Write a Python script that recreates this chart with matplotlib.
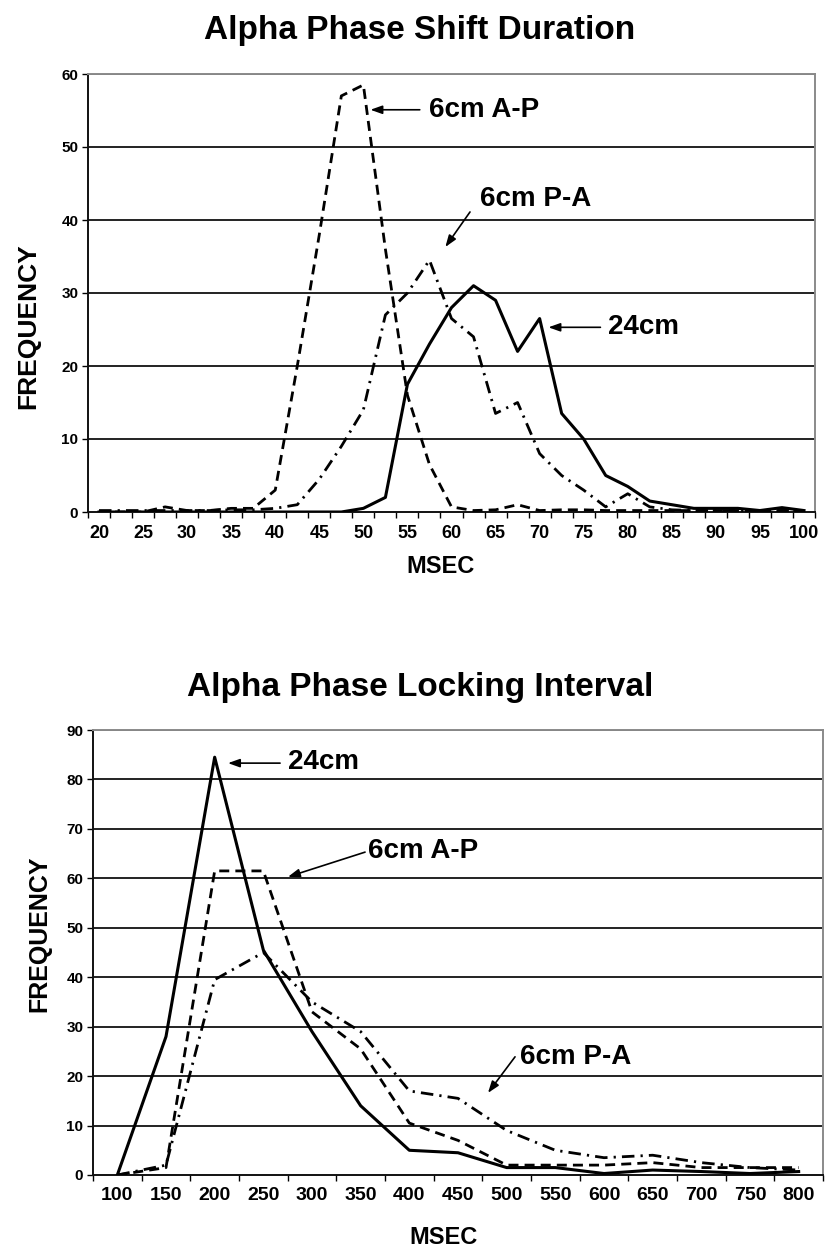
import matplotlib
matplotlib.use("Agg")
import matplotlib.pyplot as plt
from matplotlib.ticker import FixedLocator, NullFormatter

# ---------------- data ----------------
shift_msec = [20, 22.5, 25, 27.5, 30, 32.5, 35, 37.5, 40, 42.5, 45, 47.5, 50, 52.5, 55, 57.5,
              60, 62.5, 65, 67.5, 70, 72.5, 75, 77.5, 80, 82.5, 85, 87.5, 90, 92.5, 95, 97.5, 100]
shift_6cm_ap = [0, 0, 0, 0.7, 0.2, 0.2, 0.5, 0.5, 3, 20, 38, 57, 58.5, 36, 16, 6.5,
                0.7, 0.2, 0.3, 1, 0.2, 0.3, 0.3, 0.2, 0.2, 0.2, 0.2, 0.2, 0.2, 0.2, 0.2, 0.2, 0.2]
shift_6cm_pa = [0.2, 0.2, 0.2, 0.2, 0.2, 0.2, 0.3, 0.3, 0.5, 1, 4.5, 9, 14, 27, 30, 34.5,
                26.5, 24, 13.5, 15, 8, 5, 3, 0.7, 2.5, 0.7, 0.3, 0.2, 0.2, 0.2, 0.2, 0.2, 0.2]
shift_24cm = [0, 0, 0, 0, 0, 0, 0, 0, 0, 0, 0, 0, 0.5, 2, 17.5, 23,
              28, 31, 29, 22, 26.5, 13.5, 10, 5, 3.5, 1.5, 1, 0.5, 0.5, 0.5, 0.2, 0.6, 0.2]
shift_xlabels = [20, 25, 30, 35, 40, 45, 50, 55, 60, 65, 70, 75, 80, 85, 90, 95, 100]
shift_yticks = [0, 10, 20, 30, 40, 50, 60]

lock_msec = [100, 150, 200, 250, 300, 350, 400, 450, 500, 550, 600, 650, 700, 750, 800]
lock_24cm = [0, 28, 84.5, 45.5, 29, 14, 5, 4.5, 1.5, 1.5, 0.3, 1, 0.7, 0.3, 0.7]
lock_6cm_ap = [0, 1.5, 61.5, 61.5, 33, 25.5, 10.5, 7, 2, 2, 2, 2.5, 1.5, 1.5, 1.5]
lock_6cm_pa = [0, 2, 39.5, 45, 35, 29, 17, 15.5, 9, 5, 3.5, 4, 2.5, 1.5, 1]
lock_yticks = [0, 10, 20, 30, 40, 50, 60, 70, 80, 90]

# ---------------- figure ----------------
W, H = 835, 1249
fig = plt.figure(figsize=(W / 100, H / 100), dpi=100)
FONT = ["Liberation Sans", "DejaVu Sans"]
plt.rcParams["font.family"] = FONT
plt.rcParams["font.weight"] = "bold"


def box(l, t, r, b):
    return [l / W, 1 - b / H, (r - l) / W, (b - t) / H]


DASH = (0, (3.6, 2.2))
DASHDOT = (0, (4.5, 2.2, 0.8, 2.2))


def style_axes(ax, ymax, yticks, xlim, minor, majors, xfs):
    ax.set_ylim(0, ymax)
    ax.set_xlim(*xlim)
    ax.set_yticks(yticks)
    ax.set_yticklabels([str(v) for v in yticks], fontsize=11, fontweight="bold")
    ax.set_xticks(majors)
    ax.set_xticklabels([str(v) for v in majors], fontsize=xfs, fontweight="bold")
    ax.xaxis.set_minor_locator(FixedLocator(minor))
    ax.xaxis.set_minor_formatter(NullFormatter())
    ax.tick_params(axis="x", which="major", length=0, pad=9)
    ax.tick_params(axis="x", which="minor", length=4, width=1, direction="out")
    ax.tick_params(axis="y", length=4, width=1, direction="out", pad=3)
    for v in yticks[1:]:
        ax.axhline(v, color="#111111", lw=1.3, zorder=1)
    for s in ["left", "bottom"]:
        ax.spines[s].set_color("#111111")
        ax.spines[s].set_linewidth(1.4)
    for s in ["top", "right"]:
        ax.spines[s].set_color("#8a8a8a")
        ax.spines[s].set_linewidth(1.4)


arrow_kw = dict(arrowstyle="-|>,head_length=0.7,head_width=0.25", color="black",
                lw=1.2, shrinkA=0, shrinkB=0)
ann_fs = 20

# ---------- top chart ----------
ax1 = fig.add_axes(box(88, 74, 815, 512))
ax1.plot(shift_msec, shift_6cm_ap, color="black", lw=2.0, linestyle=DASH, zorder=3)
ax1.plot(shift_msec, shift_6cm_pa, color="black", lw=2.0, linestyle=DASHDOT, zorder=3)
ax1.plot(shift_msec, shift_24cm, color="black", lw=2.2, zorder=4)
minor1 = [18.75 + 2.5 * k for k in range(34)]
style_axes(ax1, 60, shift_yticks, (18.75, 101.25), minor1, shift_xlabels, 13)

ax1.annotate("", xy=(50.8, 55.1), xytext=(56.4, 55.1), arrowprops=arrow_kw)
ax1.text(57.4, 55.1, "6cm A-P", fontsize=ann_fs, fontweight="bold", va="center", ha="left")
ax1.annotate("", xy=(59.3, 36.3), xytext=(62.1, 41.1), arrowprops=arrow_kw)
ax1.text(63.2, 42.9, "6cm P-A", fontsize=ann_fs, fontweight="bold", va="center", ha="left")
ax1.annotate("", xy=(71.0, 25.3), xytext=(76.9, 25.3), arrowprops=arrow_kw)
ax1.text(77.8, 25.3, "24cm", fontsize=ann_fs, fontweight="bold", va="center", ha="left")

fig.text(420 / W, 1 - 31 / H, "Alpha Phase Shift Duration", fontsize=24, fontweight="bold",
         ha="center", va="center")
fig.text(28 / W, 1 - 326 / H, "FREQUENCY", fontsize=19, fontweight="bold",
         ha="center", va="center", rotation=90)
fig.text(441 / W, 1 - 567 / H, "MSEC", fontsize=17, fontweight="bold",
         ha="center", va="center")

# ---------- bottom chart ----------
ax2 = fig.add_axes(box(93, 730, 823, 1175))
ax2.plot(lock_msec, lock_6cm_ap, color="black", lw=2.0, linestyle=DASH, zorder=3)
ax2.plot(lock_msec, lock_6cm_pa, color="black", lw=2.0, linestyle=DASHDOT, zorder=3)
ax2.plot(lock_msec, lock_24cm, color="black", lw=2.2, zorder=4)
minor2 = [75 + 50 * k for k in range(16)]
style_axes(ax2, 90, lock_yticks, (75, 825), minor2, lock_msec, 14)

ax2.annotate("", xy=(213.7, 83.3), xytext=(267.2, 83.3), arrowprops=arrow_kw)
ax2.text(275.8, 83.6, "24cm", fontsize=ann_fs, fontweight="bold", va="center", ha="left")
ax2.annotate("", xy=(275.3, 60.3), xytext=(354.5, 65.3), arrowprops=arrow_kw)
ax2.text(357.6, 65.5, "6cm A-P", fontsize=ann_fs, fontweight="bold", va="center", ha="left")
ax2.annotate("", xy=(480.8, 16.6), xytext=(508.6, 23.9), arrowprops=arrow_kw)
ax2.text(513.7, 23.9, "6cm P-A", fontsize=ann_fs, fontweight="bold", va="center", ha="left")

fig.text(420 / W, 1 - 688 / H, "Alpha Phase Locking Interval", fontsize=24, fontweight="bold",
         ha="center", va="center")
fig.text(39 / W, 1 - 934 / H, "FREQUENCY", fontsize=18, fontweight="bold",
         ha="center", va="center", rotation=90)
fig.text(444 / W, 1 - 1237 / H, "MSEC", fontsize=17, fontweight="bold",
         ha="center", va="center")

fig.savefig("out.png", dpi=100, facecolor="white")
